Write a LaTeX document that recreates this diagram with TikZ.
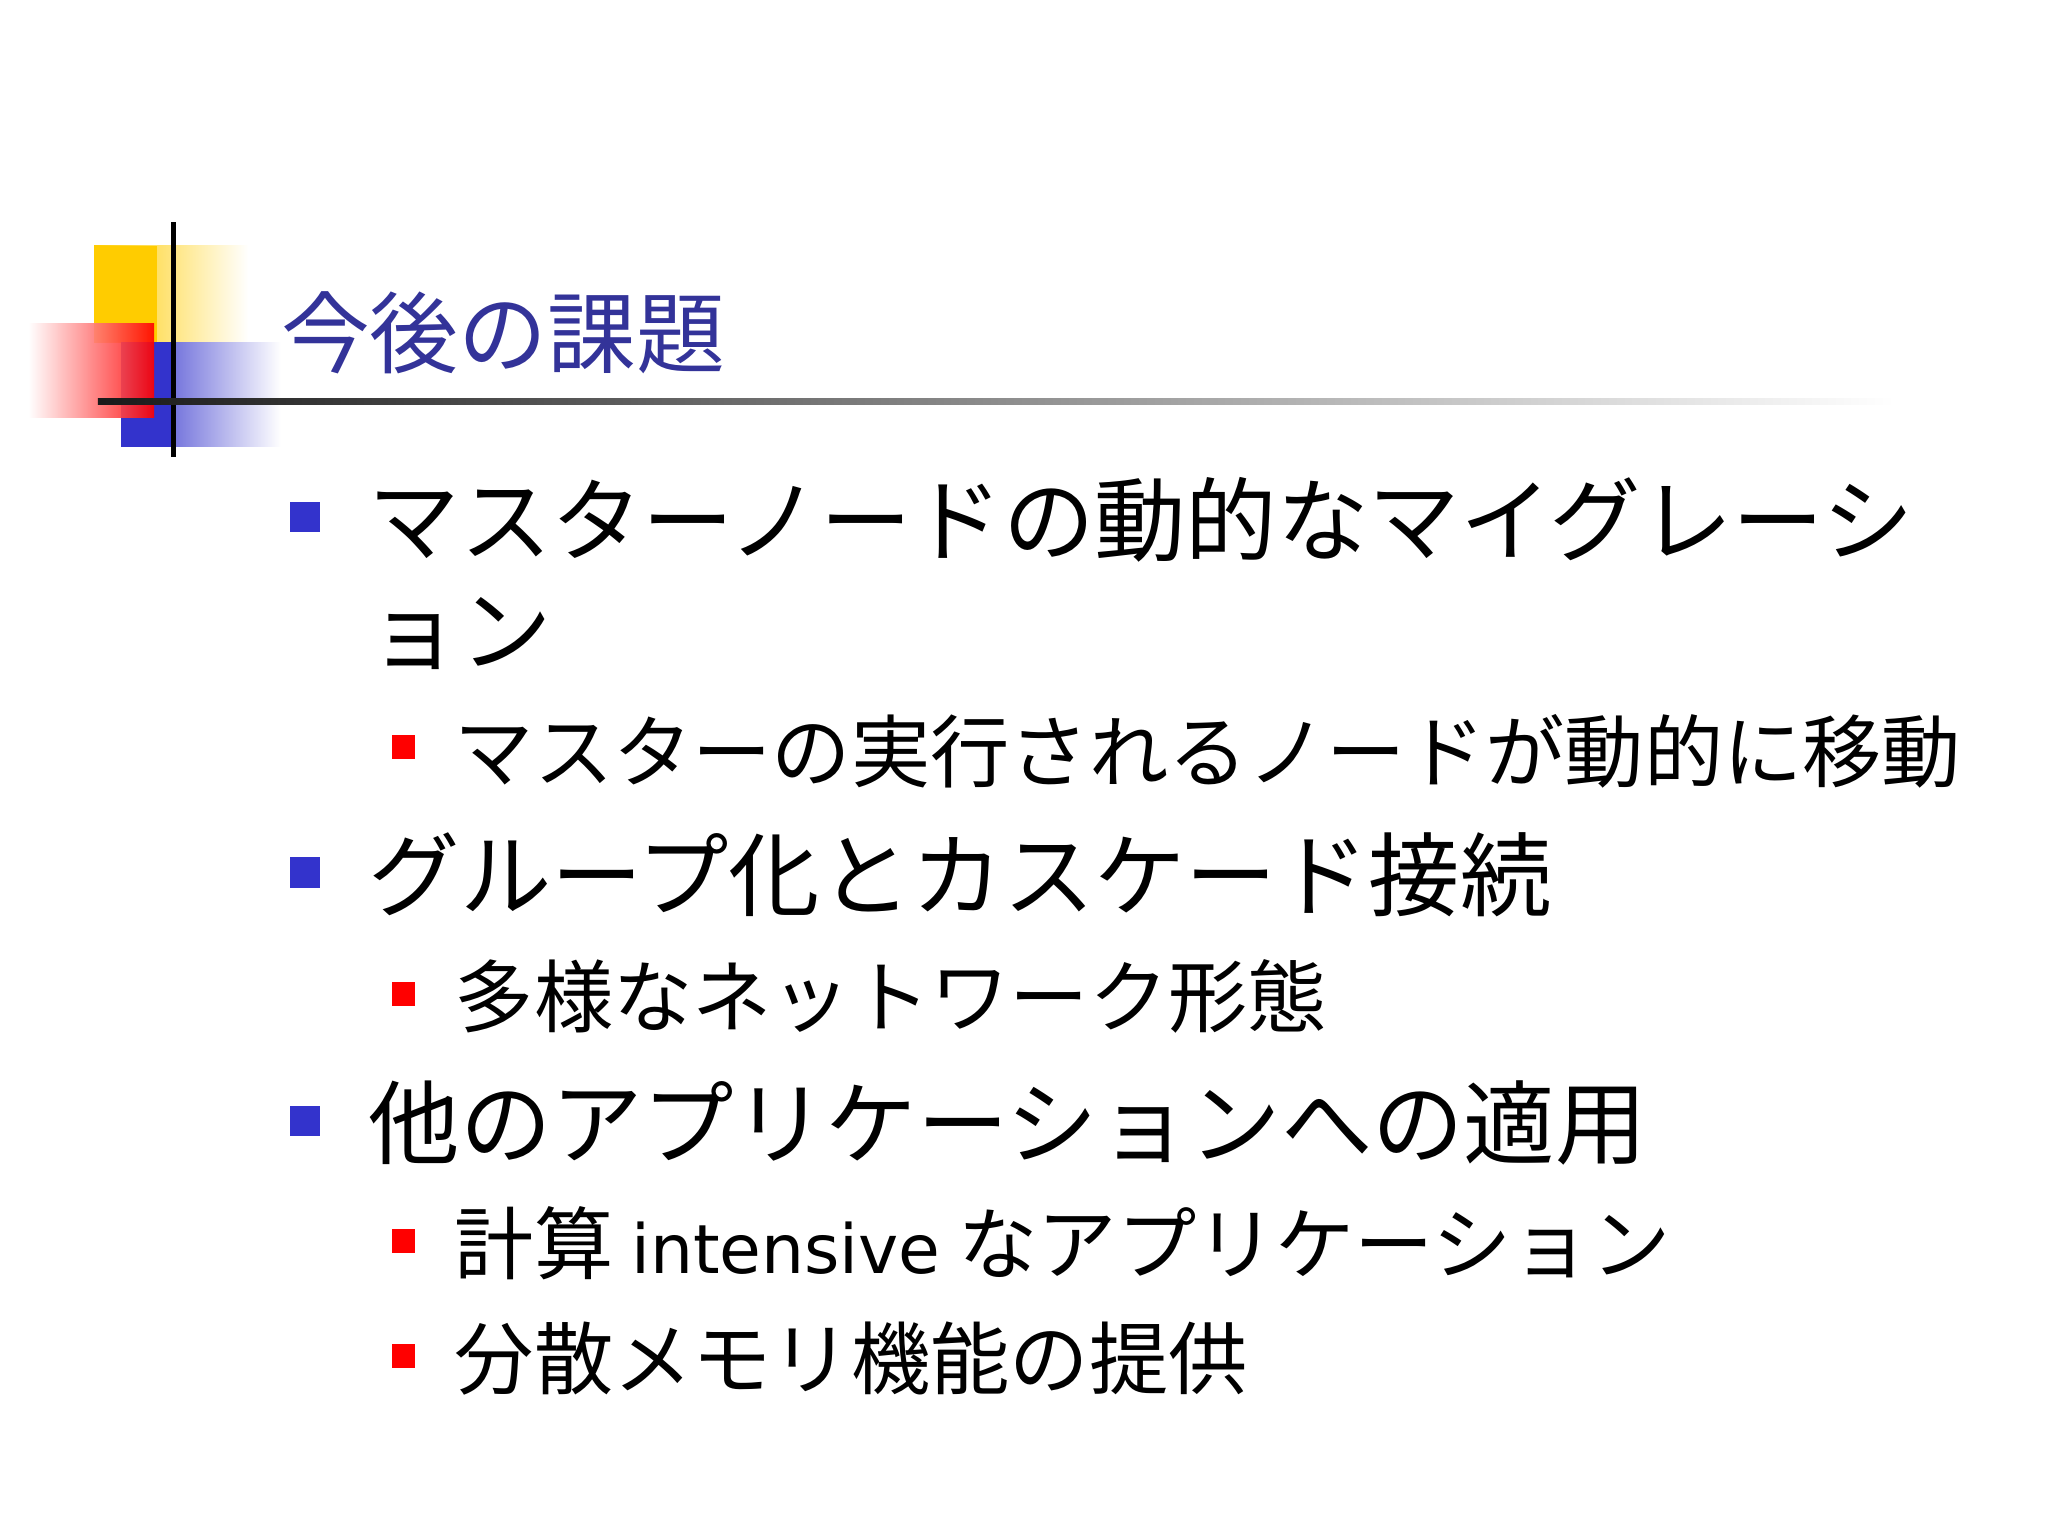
\documentclass[tikz,border=0pt]{standalone}
\usepackage{fontspec}
\setmainfont{Noto Sans CJK JP}
\newfontfamily\latn{DejaVu Sans}
\definecolor{ttl}{RGB}{51,51,153}
\definecolor{bblue}{RGB}{51,51,204}
\definecolor{gold}{RGB}{255,204,0}
\begin{document}
\begin{tikzpicture}[x=1pt,y=-1pt,
  lone/.style={anchor=west,inner sep=0pt,font=\fontsize{70}{74}\selectfont},
  ltwo/.style={anchor=west,inner sep=0pt,font=\fontsize{60.7}{64}\selectfont},
  bone/.style={fill=bblue,minimum size=23pt,inner sep=0pt},
  btwo/.style={fill=red,minimum size=18pt,inner sep=0pt}]
\useasboundingbox (0,0) rectangle (1568,1176);
\fill[white] (0,0) rectangle (1568,1176);
% decorations
\shade[left color=gold,right color=white] (72,188) rectangle (190,262);
\fill[gold] (72,188) rectangle (120,262);
\shade[left color=bblue,right color=white] (93,262) rectangle (215,342);
\fill[bblue] (93,262) rectangle (133,342);
\shade[left color=white,right color=red,opacity=0.9] (22,248) rectangle (118,320);
\draw[line width=4pt] (133,170) -- (133,350);
\shade[left color=black!90,right color=white] (75,305) rectangle (1450,310);
\node[anchor=west,inner sep=0pt,text=ttl,font=\fontsize{68}{72}\selectfont] (title) at (215,255) {今後の課題};
% level 1
\node[bone] (b1) at (233.5,396) {};
\node[lone] (t1) at (282,398) {マスターノードの動的なマイグレーシ};
\node[lone] (t1b) at (282,485) {ョン};
\node[btwo] (r1) at (309,572) {};
\node[ltwo] (s1) at (348,575) {マスターの実行されるノードが動的に移動};
\node[bone] (b2) at (233.5,668) {};
\node[lone] (t2) at (282,670) {グループ化とカスケード接続};
\node[btwo] (r2) at (309,761) {};
\node[ltwo] (s2) at (348,763) {多様なネットワーク形態};
\node[bone] (b3) at (233.5,858) {};
\node[lone] (t3) at (282,860) {他のアプリケーションへの適用};
\node[btwo] (r3) at (309,950) {};
\node[ltwo] (s3) at (348,952) {計算 {\latn\fontsize{52}{56}\selectfont intensive} なアプリケーション};
\node[btwo] (r4) at (309,1038) {};
\node[ltwo] (s4) at (348,1040) {分散メモリ機能の提供};
\end{tikzpicture}
\end{document}
